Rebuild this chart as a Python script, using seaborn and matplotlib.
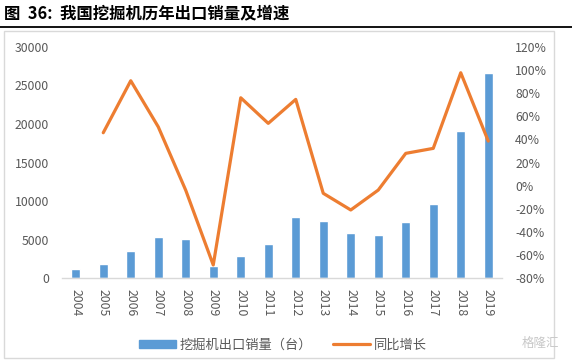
import matplotlib
matplotlib.use("Agg")
import matplotlib.pyplot as plt
import seaborn as sns
import pandas as pd
import numpy as np
from matplotlib.patches import Rectangle
from matplotlib.lines import Line2D

years = ["2004", "2005", "2006", "2007", "2008", "2009", "2010", "2011",
         "2012", "2013", "2014", "2015", "2016", "2017", "2018", "2019"]
export_units = [1260, 1820, 3600, 5410, 5150, 1600, 2900, 4500,
                7920, 7400, 5880, 5670, 7270, 9610, 19090, 26580]
yoy_growth = [np.nan, 0.457, 0.906, 0.508, -0.04, -0.685, 0.759, 0.538,
              0.745, -0.066, -0.21, -0.038, 0.279, 0.322, 0.975, 0.385]

title = "图  36:  我国挖掘机历年出口销量及增速"
bar_label = "挖掘机出口销量（台）"
line_label = "同比增长"

sns.set_theme(style="white")
plt.rcParams['font.family'] = ['Noto Sans CJK SC', 'DejaVu Sans']

W, H = 572, 361
fig = plt.figure(figsize=(W / 100, H / 100), dpi=100)

def fx(px):
    return px / W

def fy(py):
    return 1 - py / H

# outer frame
fig.patches.append(Rectangle((fx(4), fy(358)), fx(554 - 4), (358 - 31) / H,
                             transform=fig.transFigure, fill=False,
                             edgecolor="#D9D9D9", linewidth=1.0))
# title and rule
fig.text(fx(4), fy(13), title, fontsize=11.8, fontweight="bold",
         color="black", va="center", ha="left")
fig.add_artist(Line2D([0, 1], [fy(26.7), fy(26.7)], transform=fig.transFigure,
                      color="black", linewidth=1.3))

ax = fig.add_axes([fx(62), fy(278.3), fx(502 - 62), (278.3 - 46.7) / H])
df = pd.DataFrame({"year": years, "units": export_units,
                   "growth": yoy_growth, "pos": np.arange(len(years))})

sns.barplot(data=df, x="year", y="units", order=years, color="#5B9BD5",
            saturation=1, width=0.34, ax=ax, label=bar_label)
ax.set_ylim(0, 30000)
ax.set_xlim(-0.5, len(years) - 0.5)
ax.set_yticks(np.arange(0, 30001, 5000))
ax.set_xlabel("")
ax.set_ylabel("")
for s in ["top", "right", "left"]:
    ax.spines[s].set_visible(False)
ax.spines["bottom"].set_color("#D9D9D9")
ax.spines["bottom"].set_linewidth(1.0)
ax.tick_params(axis="y", labelsize=8.8, labelcolor="#595959", length=0, pad=9.5)
ax.tick_params(axis="x", labelsize=8.8, labelcolor="#595959", length=0,
               labelrotation=-90, pad=8)

ax2 = ax.twinx()
sns.lineplot(data=df.dropna(), x="pos", y="growth", color="#ED7D31",
             linewidth=2.3, ax=ax2, label=line_label)
ax2.set_ylim(-0.8, 1.2)
ax2.set_yticks(np.arange(-0.8, 1.21, 0.2))
ax2.set_yticklabels([f"{int(round(v * 100))}%" for v in np.arange(-0.8, 1.21, 0.2)])
ax2.set_xlim(-0.5, len(years) - 0.5)
ax2.set_ylabel("")
ax2.set_xlabel("")
for s in ["top", "right", "left", "bottom"]:
    ax2.spines[s].set_visible(False)
ax2.tick_params(axis="y", labelsize=8.8, labelcolor="#595959", length=0, pad=9.5)

# legend
if ax.get_legend():
    ax.get_legend().remove()
if ax2.get_legend():
    ax2.get_legend().remove()
handles = [Rectangle((0, 0), 1, 1, color="#5B9BD5"),
           Line2D([0], [0], color="#ED7D31", linewidth=2.3)]
fig.legend(handles, [bar_label, line_label], loc="center",
           bbox_to_anchor=(fx(283), fy(345)), ncol=2, frameon=False,
           fontsize=9.5, labelcolor="#595959", handlelength=2.8,
           handleheight=0.6, columnspacing=1.6, handletextpad=0.3)

# watermark
fig.text(fx(540), fy(343), "格隆汇", fontsize=9, color="#C8C8C8",
         ha="center", va="center")

fig.savefig("out.png", dpi=100)
